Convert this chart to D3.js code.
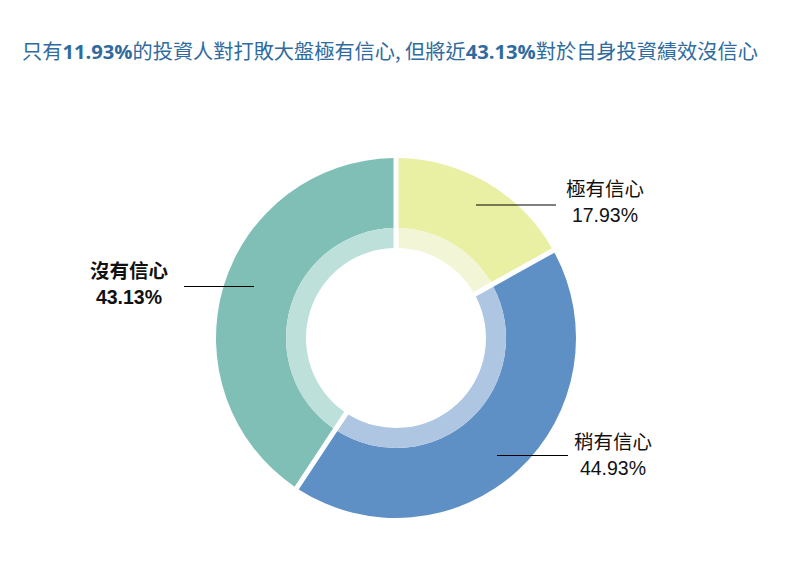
<!DOCTYPE html>
<html><head><meta charset="utf-8">
<script src="https://cdn.jsdelivr.net/npm/d3@7"></script>
<style>
body{margin:0;background:#fff;}
svg{display:block;}
</style></head>
<body>
<svg id="chart" width="792" height="580"></svg>
<script>
const categories = ["極有信心", "稍有信心", "沒有信心"];
const values = [17.93, 44.93, 43.13];
const valueLabels = ["17.93%", "44.93%", "43.13%"];
const colors = ["#EAF0A3", "#5E90C6", "#7FBFB5"];
const lightColors = ["#F3F6D6", "#AEC6E2", "#BDE0DB"];
const titleParts = [
  {t:"只有", b:false},{t:"11.93%", b:true},{t:"的投資人對打敗大盤極有信心, 但將近", b:false},
  {t:"43.13%", b:true},{t:"對於自身投資績效沒信心", b:false}
];

const svg = d3.select("#chart");
const title = svg.append("text").attr("x", 22).attr("y", 59)
  .attr("fill", "#2F6B9E").style("font-size", "20.2px")
  .style("font-family", "'Noto Sans CJK TC', 'Open Sans', sans-serif");
titleParts.forEach(p => {
  title.append("tspan").text(p.t)
    .style("font-weight", p.b ? "bold" : "normal")
    .style("font-family", p.b ? "'Open Sans', sans-serif" : "'Noto Sans CJK TC', sans-serif");
});

const cx = 396, cy = 338;
const g = svg.append("g").attr("transform", `translate(${cx},${cy})`);
const pie = d3.pie().sort(null).value(d => d.v);
const data = categories.map((c, i) => ({c, v: values[i], i}));
const arcs = pie(data);
const outer = d3.arc().innerRadius(110).outerRadius(180).padAngle(0.05).padRadius(100);
const inner = d3.arc().innerRadius(90).outerRadius(110).padAngle(0.05).padRadius(100);

g.selectAll("path.o").data(arcs).join("path").attr("class","o")
  .attr("d", outer).attr("fill", d => colors[d.data.i]);
g.selectAll("path.i").data(arcs).join("path").attr("class","i")
  .attr("d", inner).attr("fill", d => lightColors[d.data.i]);

// labels
const labelCfg = [
  {x1: 476, x2: 556, y: 205, tx: 605, ty: 196, bold: false},
  {x1: 497, x2: 568, y: 455.5, tx: 613, ty: 449, bold: false},
  {x1: 184, x2: 254, y: 286.5, tx: 129, ty: 278, bold: true}
];
arcs.forEach((a, k) => {
  const L = labelCfg[a.data.i];
  svg.append("line").attr("x1", L.x1).attr("x2", L.x2).attr("y1", L.y).attr("y2", L.y)
    .attr("stroke", "#000").attr("stroke-width", 1);
  const t = svg.append("text").attr("text-anchor", "middle")
    .style("font-family", "'Liberation Sans', Arial, 'Noto Sans CJK TC', sans-serif")
    .style("font-size", "19.5px").style("font-weight", L.bold ? "bold" : "normal")
    .attr("fill", "#111");
  t.append("tspan").attr("x", L.tx).attr("y", L.ty).text(a.data.c)
    .style("font-family", "'Noto Sans CJK TC', sans-serif");
  t.append("tspan").attr("x", L.tx).attr("y", L.ty + 26).text(valueLabels[a.data.i]);
});
</script>
</body></html>
